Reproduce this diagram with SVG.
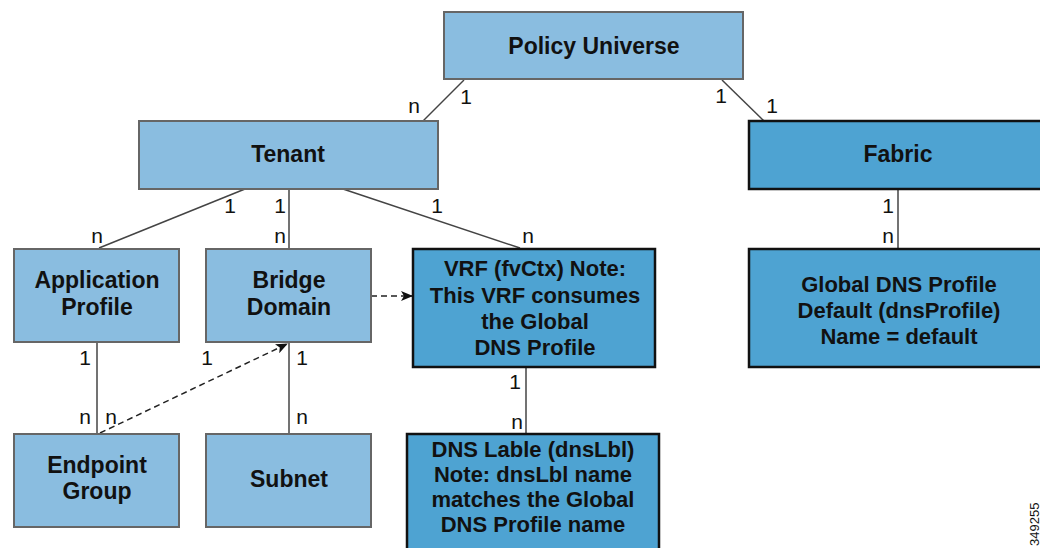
<svg xmlns="http://www.w3.org/2000/svg" width="1040" height="548" viewBox="0 0 1040 548">
<style>
.light{fill:#8abde0;stroke:#666;stroke-width:2}
.dark{fill:#4ea3d2;stroke:#111;stroke-width:2.5}
.t{font-family:"Liberation Sans",Arial,sans-serif;font-weight:bold;font-size:23px;fill:#111;text-anchor:middle}
.td{font-family:"Liberation Sans",Arial,sans-serif;font-weight:bold;font-size:22px;fill:#111;text-anchor:middle}
.lbl{font-family:"Liberation Sans",Arial,sans-serif;font-size:21px;fill:#111;text-anchor:middle}
.ln{stroke:#444;stroke-width:1.5;fill:none}
.dash{stroke:#222;stroke-width:1.5;fill:none;stroke-dasharray:6 4}
</style>
<defs>
<marker id="arr" viewBox="0 0 12 10" refX="11" refY="5" markerWidth="12" markerHeight="10" markerUnits="userSpaceOnUse" orient="auto">
<path d="M0,0 L12,5 L0,10 L3,5 Z" fill="#111"/>
</marker>
</defs>
<rect width="1040" height="548" fill="#fff"/>
<g id="connectors">
<line class="ln" x1="464" y1="80" x2="423" y2="121"/>
<line class="ln" x1="722" y1="80" x2="764" y2="121"/>
<line class="ln" x1="245" y1="189" x2="99" y2="248"/>
<line class="ln" x1="289" y1="189" x2="289" y2="248"/>
<line class="ln" x1="343" y1="189" x2="520" y2="248"/>
<line class="ln" x1="898" y1="189" x2="898" y2="248"/>
<line class="ln" x1="97" y1="342" x2="97" y2="434"/>
<line class="ln" x1="289" y1="342" x2="289" y2="434"/>
<line class="ln" x1="526" y1="367" x2="526" y2="434"/>
<line class="dash" x1="371" y1="296" x2="412" y2="296" marker-end="url(#arr)"/>
<line class="dash" x1="100" y1="433" x2="287" y2="344" marker-end="url(#arr)"/>
<text class="lbl" x="466" y="104">1</text>
<text class="lbl" x="414" y="113">n</text>
<text class="lbl" x="721" y="103">1</text>
<text class="lbl" x="772" y="113">1</text>
<text class="lbl" x="230" y="213">1</text>
<text class="lbl" x="97" y="243">n</text>
<text class="lbl" x="280" y="213">1</text>
<text class="lbl" x="280" y="243">n</text>
<text class="lbl" x="437" y="213">1</text>
<text class="lbl" x="528" y="243">n</text>
<text class="lbl" x="888" y="213">1</text>
<text class="lbl" x="888" y="243">n</text>
<text class="lbl" x="85" y="365">1</text>
<text class="lbl" x="85" y="424">n</text>
<text class="lbl" x="111" y="424">n</text>
<text class="lbl" x="207" y="365">1</text>
<text class="lbl" x="302" y="365">1</text>
<text class="lbl" x="302" y="424">n</text>
<text class="lbl" x="515" y="389">1</text>
<text class="lbl" x="517" y="429">n</text>
</g>
<g id="policy-universe">
<rect class="light" x="444" y="12" width="299" height="67"/>
<text class="t" x="594" y="54">Policy Universe</text>
</g>
<g id="tenant">
<rect class="light" x="139" y="121" width="299" height="68"/>
<text class="t" x="288" y="162">Tenant</text>
</g>
<g id="fabric">
<rect class="dark" x="749" y="121" width="300" height="68"/>
<text class="t" x="898" y="162">Fabric</text>
</g>
<g id="application-profile">
<rect class="light" x="14" y="249" width="165" height="93"/>
<text class="t" x="97" y="288">Application</text>
<text class="t" x="97" y="315">Profile</text>
</g>
<g id="bridge-domain">
<rect class="light" x="206" y="249" width="165" height="93"/>
<text class="t" x="289" y="288">Bridge</text>
<text class="t" x="289" y="315">Domain</text>
</g>
<g id="vrf">
<rect class="dark" x="413" y="249" width="242" height="118"/>
<text class="td" x="535" y="276">VRF (fvCtx) Note:</text>
<text class="td" x="535" y="303">This VRF consumes</text>
<text class="td" x="535" y="329">the Global</text>
<text class="td" x="535" y="355">DNS Profile</text>
</g>
<g id="global-dns-profile">
<rect class="dark" x="749" y="249" width="300" height="118"/>
<text class="td" x="899" y="292">Global DNS Profile</text>
<text class="td" x="899" y="318">Default (dnsProfile)</text>
<text class="td" x="899" y="344">Name = default</text>
</g>
<g id="endpoint-group">
<rect class="light" x="14" y="434" width="165" height="93"/>
<text class="t" x="97" y="473">Endpoint</text>
<text class="t" x="97" y="499">Group</text>
</g>
<g id="subnet">
<rect class="light" x="206" y="434" width="165" height="93"/>
<text class="t" x="289" y="487">Subnet</text>
</g>
<g id="dns-label">
<rect class="dark" x="407" y="434" width="252" height="130"/>
<text class="td" x="533" y="457">DNS Lable (dnsLbl)</text>
<text class="td" x="533" y="482">Note: dnsLbl name</text>
<text class="td" x="533" y="507">matches the Global</text>
<text class="td" x="533" y="532">DNS Profile name</text>
</g>
<text transform="translate(1039,546) rotate(-90)" x="0" y="0" font-family="Liberation Sans,Arial,sans-serif" font-size="13" fill="#111">349255</text>
</svg>
